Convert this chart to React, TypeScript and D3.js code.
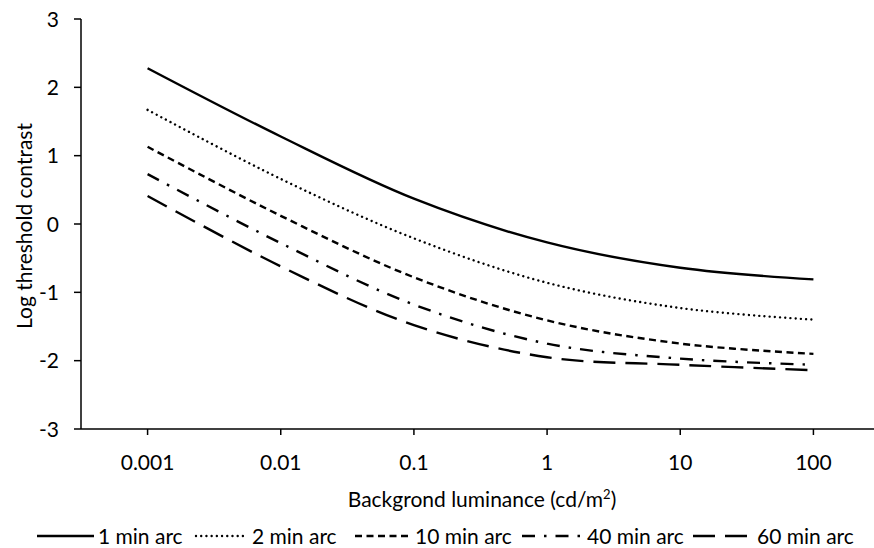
import React from "react";
import * as d3 from "d3";

const luminance = [0.001, 0.01, 0.1, 1, 10, 100];
const xTickLabels = ["0.001", "0.01", "0.1", "1", "10", "100"];
const yTicks = [-3, -2, -1, 0, 1, 2, 3];

const arc1 = [2.28, 1.28, 0.37, -0.27, -0.64, -0.81];
const arc2 = [1.67, 0.66, -0.21, -0.86, -1.23, -1.40];
const arc10 = [1.13, 0.12, -0.78, -1.41, -1.75, -1.90];
const arc40 = [0.73, -0.28, -1.18, -1.75, -1.97, -2.06];
const arc60 = [0.41, -0.62, -1.48, -1.95, -2.06, -2.14];

const seriesNames = ["1 min arc", "2 min arc", "10 min arc", "40 min arc", "60 min arc"];
const seriesValues = [arc1, arc2, arc10, arc40, arc60];
const dashes = ["none", "0.01,5.2", "7,4.5", "13,9,2.5,9", "22,10"];
const caps = ["butt", "round", "butt", "butt", "butt"];

const W = 874;
const H = 548;
const FONT = "Lato, 'Open Sans', sans-serif";
const FS = 21;

export default function App() {
  const x = d3.scaleLog().domain([Math.pow(10, -3.5), Math.pow(10, 2.5)]).range([81, 880]);
  const y = d3.scaleLinear().domain([-3, 3]).range([429, 19]);
  const line = d3
    .line<number>()
    .x((_, i) => x(luminance[i]))
    .y((d) => y(d))
    .curve(d3.curveCatmullRom.alpha(0.5));

  const legendItems = [
    { x1: 37, x2: 94, tx: 98 },
    { x1: 196, x2: 248, tx: 252 },
    { x1: 355, x2: 412, tx: 415 },
    { x1: 522, x2: 580, tx: 587 },
    { x1: 693, x2: 755, tx: 757 },
  ];

  return (
    <svg
      width={W}
      height={H}
      style={{ position: "absolute", left: 0, top: 0, background: "#fff" }}
      fontFamily={FONT}
    >
      {/* axes */}
      <line x1={81} x2={81} y1={y(3)} y2={y(-3)} stroke="#000" strokeWidth={1.5} />
      <line x1={81} x2={874} y1={y(-3)} y2={y(-3)} stroke="#000" strokeWidth={1.5} />
      {yTicks.map((t) => (
        <g key={t}>
          <line x1={74} x2={81} y1={y(t)} y2={y(t)} stroke="#000" strokeWidth={1.5} />
          <text x={59} y={y(t)} dy="0.36em" textAnchor="end" fontSize={FS} fill="#000">
            {t}
          </text>
        </g>
      ))}
      {luminance.map((v, i) => (
        <g key={v}>
          <line x1={x(v)} x2={x(v)} y1={y(-3)} y2={y(-3) + 6} stroke="#000" strokeWidth={1.5} />
          <text x={x(v)} y={462} dy="0.36em" textAnchor="middle" fontSize={FS} fill="#000">
            {xTickLabels[i]}
          </text>
        </g>
      ))}
      <text x={482} y={499} dy="0.36em" textAnchor="middle" fontSize={FS} fill="#000">
        Backgrond luminance (cd/m<tspan fontSize={13} dy={-8}>2</tspan>
        <tspan dy={8}>)</tspan>
      </text>
      <text
        transform={`translate(24,${y(0) + 2}) rotate(-90)`}
        dy="0.36em"
        textAnchor="middle"
        fontSize={FS}
        fill="#000"
      >
        Log threshold contrast
      </text>

      {/* series */}
      {seriesValues.map((vals, i) => (
        <path
          key={seriesNames[i]}
          d={line(vals) || ""}
          fill="none"
          stroke="#000"
          strokeWidth={2.4}
          strokeDasharray={dashes[i]}
          strokeLinecap={caps[i] as any}
        />
      ))}

      {/* legend */}
      {legendItems.map((it, i) => (
        <g key={seriesNames[i]}>
          <line
            x1={it.x1}
            x2={it.x2}
            y1={536}
            y2={536}
            stroke="#000"
            strokeWidth={2.4}
            strokeDasharray={dashes[i]}
            strokeLinecap={caps[i] as any}
          />
          <text x={it.tx} y={536} dy="0.36em" fontSize={FS} fill="#000">
            {seriesNames[i]}
          </text>
        </g>
      ))}
    </svg>
  );
}
